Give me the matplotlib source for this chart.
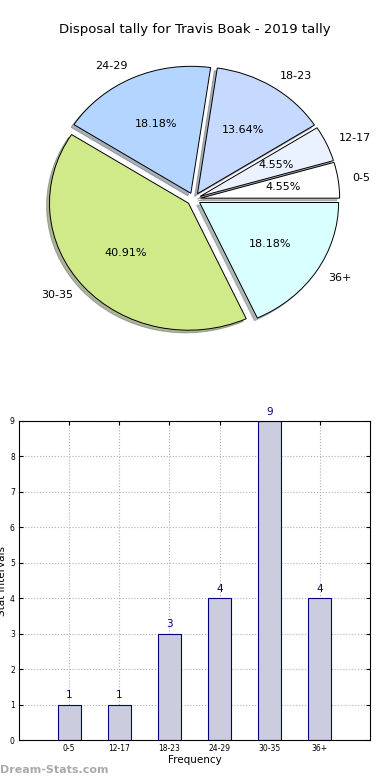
import matplotlib
matplotlib.use("Agg")
import matplotlib.pyplot as plt

# Data
categories = ["0-5", "12-17", "18-23", "24-29", "30-35", "36+"]
counts = [1, 1, 3, 4, 9, 4]
pie_colors = ["#ffffff", "#eaf1ff", "#c6d9ff", "#b3d5ff", "#d0ea8a", "#d9ffff"]

fig = plt.figure(figsize=(3.9, 7.8), dpi=100)

# Pie chart (slightly squashed, like the original)
ax1 = fig.add_axes([0.0513, 0.5413, 0.891, 0.407])
wedges, texts, autotexts = ax1.pie(
    counts, labels=categories, colors=pie_colors, autopct="%1.2f%%",
    explode=[0.05] * len(counts), startangle=0,
    shadow={"ox": -0.015, "oy": -0.015, "shade": 0.55},
    wedgeprops={"edgecolor": "black", "linewidth": 0.7},
    textprops={"fontsize": 8})
ax1.set_aspect("auto")
fig.text(0.5, 1 - 30 / 780, "Disposal tally for Travis Boak - 2019 tally",
         ha="center", va="center", fontsize=9.5)

# Bar chart
ax2 = fig.add_axes([19 / 390, 40 / 780, 351 / 390, 319 / 780])
x = list(range(len(categories)))
bars = ax2.bar(x, counts, width=0.46, color="#ccccdf", edgecolor="#000080",
               linewidth=0.8, zorder=2)
for xi, c in zip(x, counts):
    ax2.text(xi, c + 0.12, str(c), ha="center", va="bottom",
             color="#000080", fontsize=7.5)
ax2.set_xlim(-1, 6)
ax2.set_ylim(0, 9)
ax2.set_xticks(x)
ax2.set_xticklabels(categories)
ax2.set_yticks(range(10))
ax2.tick_params(direction="in", labelsize=5.5, length=3, pad=3)
ax2.tick_params(top=True, right=True)
ax2.grid(True, linestyle=":", color="#b0b0b0", linewidth=0.8, zorder=0)
ax2.set_xlabel("Frequency", fontsize=7.5, labelpad=1)
ax2.set_ylabel("Stat Intervals", fontsize=7.5, labelpad=2)

fig.text(0.0, 1 - 770 / 780, "Dream-Stats.com", ha="left", va="center",
         fontsize=8, fontweight="bold", color="#aaaaaa")

fig.savefig("out.png", dpi=100)
